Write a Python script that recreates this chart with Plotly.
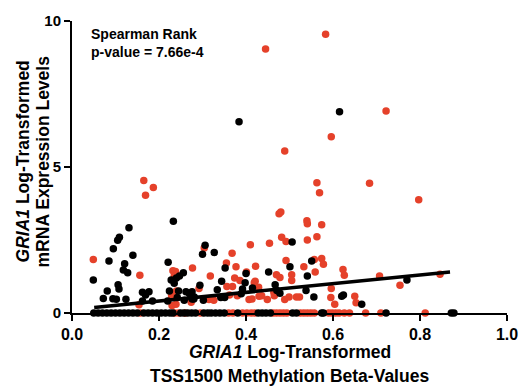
import plotly.graph_objects as go

# ---- data ----
black_x = [0.384, 0.615, 0.233, 0.131, 0.109, 0.105, 0.095, 0.140, 0.085, 0.121,
           0.118, 0.128, 0.221, 0.049, 0.228, 0.235, 0.240, 0.106, 0.108, 0.081,
           0.072, 0.094, 0.102, 0.124, 0.162, 0.177, 0.169, 0.162, 0.185, 0.224,
           0.220, 0.256, 0.247, 0.245, 0.262, 0.276, 0.276, 0.280, 0.294, 0.258,
           0.270, 0.281, 0.302, 0.242, 0.300, 0.306, 0.327, 0.352, 0.344, 0.400,
           0.452, 0.398, 0.392, 0.415, 0.467, 0.389, 0.342, 0.334, 0.351, 0.506,
           0.501, 0.551, 0.541, 0.538, 0.478, 0.556, 0.620, 0.624, 0.666, 0.770,
           0.471]
black_y = [6.55, 6.89, 3.14, 2.92, 2.59, 2.49, 2.20, 1.98, 1.78, 1.69,
           1.47, 1.38, 1.74, 1.13, 1.13, 1.02, 1.20, 0.97, 0.82, 0.75,
           0.50, 0.49, 0.47, 0.47, 0.71, 0.73, 0.62, 0.41, 0.41, 0.75,
           0.41, 1.38, 1.27, 0.75, 0.73, 0.73, 0.48, 0.48, 0.95, 0.44,
           0.66, 0.55, 0.44, 0.53, 2.01, 2.32, 2.07, 1.54, 1.09, 1.35,
           1.40, 1.04, 0.82, 0.86, 0.97, 0.66, 0.53, 0.80, 0.53, 2.43,
           1.58, 1.78, 1.27, 0.77, 0.68, 0.55, 0.57, 0.62, 0.30, 1.13,
           0.77]
black_zero_x = [0.050, 0.060, 0.070, 0.080, 0.090, 0.100, 0.110, 0.120, 0.130, 0.140,
                0.150, 0.165, 0.175, 0.185, 0.195, 0.205, 0.215, 0.225, 0.232, 0.250,
                0.258, 0.266, 0.275, 0.284, 0.303, 0.312, 0.320, 0.330, 0.340, 0.350,
                0.381, 0.428, 0.437, 0.446, 0.456, 0.507, 0.516, 0.574, 0.578, 0.722,
                0.872, 0.878]
red_x = [0.445, 0.583, 0.722, 0.596, 0.489, 0.165, 0.187, 0.169, 0.476, 0.480,
         0.563, 0.569, 0.684, 0.797, 0.540, 0.541, 0.574, 0.482, 0.492, 0.541,
         0.563, 0.492, 0.557, 0.574, 0.578, 0.559, 0.533, 0.623, 0.626, 0.707,
         0.505, 0.505, 0.478, 0.596, 0.499, 0.516, 0.523, 0.595, 0.604, 0.650,
         0.653, 0.846, 0.754, 0.049, 0.156, 0.232, 0.154, 0.229, 0.230, 0.277,
         0.304, 0.318, 0.368, 0.355, 0.377, 0.410, 0.454, 0.422, 0.401, 0.374,
         0.386, 0.421, 0.470, 0.464, 0.362, 0.407, 0.430, 0.449, 0.489, 0.315,
         0.419, 0.356, 0.369, 0.292, 0.429, 0.465, 0.436, 0.414, 0.380, 0.239,
         0.326, 0.274, 0.238, 0.235, 0.240]
red_y = [9.04, 9.55, 6.92, 6.04, 5.55, 4.54, 4.30, 4.03, 3.40, 3.46,
         4.46, 4.12, 4.44, 3.88, 3.16, 3.06, 3.02, 2.59, 2.45, 2.50,
         2.61, 1.80, 1.83, 1.87, 1.67, 1.40, 1.58, 1.49, 1.29, 1.27,
         1.31, 1.11, 1.22, 0.84, 0.55, 0.55, 0.55, 0.53, 0.30, 0.57,
         0.35, 1.33, 0.95, 1.83, 1.29, 1.45, 0.28, 0.59, 0.26, 1.54,
         2.23, 1.27, 2.05, 1.71, 1.58, 2.34, 2.39, 1.60, 1.40, 1.20,
         1.11, 1.09, 1.31, 0.71, 0.62, 0.46, 0.57, 0.46, 0.46, 0.46,
         1.04, 0.91, 0.91, 0.84, 0.88, 0.59, 0.59, 0.48, 0.59, 0.30,
         0.44, 0.37, 1.42, 1.27, 0.75]
red_zero_x = [0.157, 0.236, 0.245, 0.260, 0.295, 0.360, 0.370, 0.392, 0.402, 0.412,
              0.420, 0.462, 0.470, 0.478, 0.486, 0.494, 0.525, 0.533, 0.541, 0.549,
              0.557, 0.590, 0.598, 0.606, 0.614, 0.626, 0.638, 0.675, 0.710, 0.812]

fit_x = [0.051, 0.869]
fit_intercept = 0.115
fit_slope = 1.479

x_ticks = [0.0, 0.2, 0.4, 0.6, 0.8, 1.0]
x_tick_text = ["0.0", "0.2", "0.4", "0.6", "0.8", "1.0"]
y_ticks = [0, 5, 10]

RED = "#e5412a"
FONT = "Arial, Liberation Sans, sans-serif"

fig = go.Figure()
fig.add_trace(go.Scatter(x=red_x + red_zero_x, y=red_y + [0] * len(red_zero_x),
                         mode="markers", cliponaxis=False,
                         marker=dict(color=RED, size=7.5, line=dict(width=0)),
                         showlegend=False))
fig.add_trace(go.Scatter(x=black_x + black_zero_x, y=black_y + [0] * len(black_zero_x),
                         mode="markers", cliponaxis=False,
                         marker=dict(color="black", size=7.5, line=dict(width=0)),
                         showlegend=False))
fig.add_trace(go.Scatter(x=fit_x, y=[fit_intercept + fit_slope * v for v in fit_x],
                         mode="lines", cliponaxis=False,
                         line=dict(color="black", width=3.5), showlegend=False))

fig.update_layout(
    width=530, height=387,
    margin=dict(l=72, r=12, t=15, b=74),
    paper_bgcolor="white", plot_bgcolor="white",
    font=dict(family=FONT, color="black"),
    xaxis=dict(range=[0, 1], tickvals=x_ticks, ticktext=x_tick_text,
               showgrid=False, zeroline=False, showline=True, linecolor="black",
               linewidth=2, ticks="outside", ticklen=6, tickwidth=2, tickcolor="black",
               tickfont=dict(family=FONT, size=16, color="black", weight="bold")),
    yaxis=dict(range=[0, 10], tickvals=y_ticks,
               showgrid=False, zeroline=False, showline=True, linecolor="black",
               linewidth=2, ticks="outside", ticklen=6, tickwidth=2, tickcolor="black",
               tickfont=dict(family=FONT, size=15, color="black", weight="bold")),
)

ann = [
    dict(text="<b>Spearman Rank<br>p-value = 7.66e-4</b>", x=0.04, y=0.99,
         xanchor="left", yanchor="top", align="left", font=dict(size=14)),
    dict(text="<b><i>GRIA1</i> Log-Transformed</b>", x=0.5, y=-0.134,
         xanchor="center", yanchor="middle", font=dict(size=17.5)),
    dict(text="<b>TSS1500 Methylation Beta-Values</b>", x=0.5, y=-0.215,
         xanchor="center", yanchor="middle", font=dict(size=17.5)),
    dict(text="<b><i>GRIA1</i> Log-Transformed</b>", x=-0.112, y=0.52, textangle=-90,
         xanchor="center", yanchor="middle", font=dict(size=17.5)),
    dict(text="<b>mRNA Expression Levels</b>", x=-0.066, y=0.52, textangle=-90,
         xanchor="center", yanchor="middle", font=dict(size=17.5)),
]
for a in ann:
    a.update(xref="paper", yref="paper", showarrow=False)
    a["font"].update(family=FONT, color="black")
    fig.add_annotation(**a)

fig.write_html("out.html")
